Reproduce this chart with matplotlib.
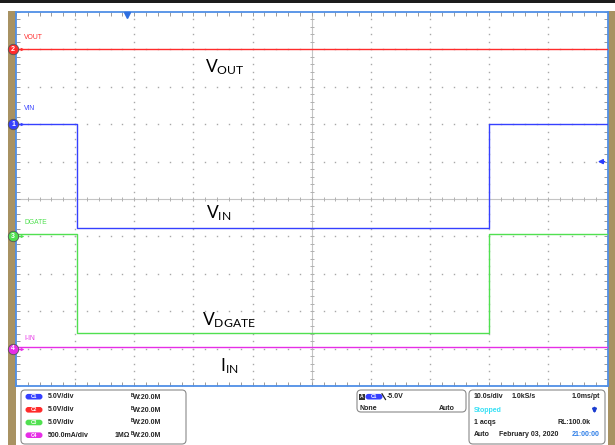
import numpy as np
import matplotlib
matplotlib.use("Agg")
import matplotlib.pyplot as plt
from matplotlib.patches import FancyBboxPatch, Rectangle

# ---------------- data ----------------
t_steps = [0, 10.3, 80.0, 100]          # seconds (10 s/div, 10 div)
vin_v = [0.0, -13.9, 0.0, 0.0]          # V, channel 1
dgate_v = [0.3, -12.9, 0.3, 0.3]        # V, channel 3
t_flat = [0, 100]
vout_v = [0.0, 0.0]                     # V, channel 2
iin_a = [0.02, 0.02]                    # A, channel 4

ch_scale = {"C1": 5.0, "C2": 5.0, "C3": 5.0, "C4": 0.5}     # per div
ch_offset = {"C1": 7.0, "C2": 9.0, "C3": 4.0, "C4": 1.0}    # divisions from bottom
ch_color = {"C1": "#3540ff", "C2": "#ff2b2b", "C3": "#50e050", "C4": "#e62ee6"}
ch_num = {"C1": "1", "C2": "2", "C3": "3", "C4": "4"}
ch_small = {"C1": "VIN", "C2": "VOUT", "C3": "DGATE", "C4": "I-IN"}
ch_rows = ["C1", "C2", "C3", "C4"]
ch_div_txt = ["5.0V/div", "5.0V/div", "5.0V/div", "500.0mA/div"]
trig_level = -5.0
trig_time = 18.8

plt.rcParams["font.family"] = ["Liberation Sans", "DejaVu Sans"]
plt.rcParams["mathtext.fontset"] = "custom"
plt.rcParams["mathtext.rm"] = "Lato"
plt.rcParams["mathtext.default"] = "rm"

W, H = 615, 445
fig = plt.figure(figsize=(W / 100, H / 100), dpi=100)
fig.patch.set_facecolor("white")

# background overlay in pixel coords
bg = fig.add_axes([0, 0, 1, 1], zorder=0)
bg.set_xlim(0, W)
bg.set_ylim(H, 0)
bg.axis("off")
tan = "#a89262"
bg.add_patch(Rectangle((0, 0), W, 2.5, color="#1c1c1c", lw=0))
bg.add_patch(Rectangle((8, 11), 8, H - 11, color=tan, lw=0))
bg.add_patch(Rectangle((607.5, 11), 8, H - 11, color=tan, lw=0))

# main graticule axes
L, T, R, B = 16, 12, 607.5, 386
ax = fig.add_axes([L / W, (H - B) / H, (R - L) / W, (B - T) / H], zorder=1)
ax.set_xlim(0, 100)
ax.set_ylim(0, 10)
ax.set_facecolor("white")
for s in ax.spines.values():
    s.set_color("#4f8fe6")
    s.set_linewidth(1.3)
ax.set_xticks(np.arange(0, 101, 10))
ax.set_xticks(np.arange(0, 101, 2), minor=True)
ax.set_yticks(np.arange(0, 11, 1))
ax.set_yticks(np.arange(0, 10.01, 0.2), minor=True)
ax.tick_params(which="both", direction="in", length=2.6, width=0.7, color="#9a9a9a",
               top=True, right=True, labelbottom=False, labelleft=False)

# grid dots
gx, gy = [], []
for k in range(1, 10):
    if k == 5:
        continue
    for j in np.arange(0.2, 10, 0.2):
        gx.append(k * 10); gy.append(j)
    for j in np.arange(2, 100, 2):
        gx.append(j); gy.append(k)
ax.plot(gx, gy, ls="none", marker="s", ms=1.0, mew=0, color="#a8a8a8", zorder=1)
ax.axvline(50, color="#c4c4c4", lw=0.8, zorder=1)
ax.axhline(5, color="#c4c4c4", lw=0.8, zorder=1)
mx = np.arange(2, 100, 2)
ax.plot(mx, np.full_like(mx, 5.0, dtype=float), ls="none", marker="|", ms=3.5, mew=0.7,
        color="#b0b0b0", zorder=1)
my = np.arange(0.2, 10, 0.2)
ax.plot(np.full_like(my, 50.0), my, ls="none", marker="_", ms=3.5, mew=0.7,
        color="#b0b0b0", zorder=1)

# traces
def scr(ch, v):
    return ch_offset[ch] + np.asarray(v) / ch_scale[ch]

ax.plot(t_flat, scr("C2", vout_v), color=ch_color["C2"], lw=1.0, zorder=3)
ax.plot(t_steps, scr("C1", vin_v), color=ch_color["C1"], lw=1.0, drawstyle="steps-post", zorder=3)
ax.plot(t_steps, scr("C3", dgate_v), color=ch_color["C3"], lw=1.0, drawstyle="steps-post", zorder=3)
ax.plot(t_flat, scr("C4", iin_a), color=ch_color["C4"], lw=1.0, zorder=3)

# channel markers
lab_dy = {"C1": 0.43, "C2": 0.33, "C3": 0.37, "C4": 0.28}
for ch in ch_rows:
    y = ch_offset[ch]
    ax.plot([-0.5], [y], marker="o", ms=7.5, mfc=ch_color[ch], mec="#555555", mew=0.6,
            clip_on=False, zorder=5)
    ax.text(-0.5, y, ch_num[ch], color="white", fontsize=5, ha="center", va="center",
            fontweight="bold", clip_on=False, zorder=6)
    ax.plot([0.2, 1.0], [y, y], color=ch_color[ch], lw=1.0, zorder=4)
    ax.plot([1.0], [y], marker=">", ms=2.5, color=ch_color[ch], mew=0, zorder=4)
    ax.text(1.4, y + lab_dy[ch], ch_small[ch], color=ch_color[ch], fontsize=4.9,
            ha="left", va="center", zorder=4)

# trigger markers
ax.plot([trig_time], [9.93], marker="v", ms=5, color="#2f6fe0", clip_on=False, zorder=6)
ty = scr("C1", trig_level)
ax.annotate("", xy=(97.9, ty), xytext=(100, ty),
            arrowprops=dict(arrowstyle="-|>", color="#2a3cff", lw=1.0, mutation_scale=7),
            zorder=6)

# big labels (foreground overlay)
fg = fig.add_axes([0, 0, 1, 1], zorder=2)
fg.set_xlim(0, W)
fg.set_ylim(H, 0)
fg.axis("off")
fg.patch.set_alpha(0)
big = 12.5
fg.text(205, 67, r"V$_{\mathrm{OUT}}$", fontsize=big, family="Lato", ha="left", va="center")
fg.text(206, 213, r"V$_{\mathrm{IN}}$", fontsize=big, family="Lato", ha="left", va="center")
fg.text(202, 320, r"V$_{\mathrm{DGATE}}$", fontsize=big, family="Lato", ha="left", va="center")
fg.text(220, 366, r"I$_{\mathrm{IN}}$", fontsize=big, family="Lato", ha="left", va="center")

# ---------------- bottom panel ----------------
fs = 5.0
def rbox(x0, y0, x1, y1):
    bg.add_patch(FancyBboxPatch((x0, y0), x1 - x0, y1 - y0,
                                boxstyle="round,pad=0,rounding_size=4",
                                fc="white", ec="#8a8a8a", lw=0.8))

def pill(x, y, color, label):
    bg.add_patch(FancyBboxPatch((x, y - 2.8), 17, 5.6,
                                boxstyle="round,pad=0,rounding_size=2.8",
                                fc=color, ec="none"))
    bg.text(x + 8.5, y, label, color="white", fontsize=3.6, ha="center", va="center",
            fontweight="bold")

rbox(21, 390, 186, 444)
row_y = [396.7, 409.8, 422.5, 435.2]
for ch, y, txt in zip(ch_rows, row_y, ch_div_txt):
    pill(25.5, y, ch_color[ch], ch)
    bg.text(48, y, txt, fontsize=fs, fontweight="bold", ha="left", va="center", color="#222222")
    bg.text(130.5, y - 1.6, "B", fontsize=3.3, fontweight="bold", ha="left", va="center", color="#222222")
    bg.text(133, y + 0.4, "W:20.0M", fontsize=fs, fontweight="bold", ha="left", va="center", color="#222222")
bg.text(115, row_y[3], "1MΩ", fontsize=fs, fontweight="bold", ha="left", va="center", color="#222222")

rbox(357, 390, 466, 412)
bg.add_patch(Rectangle((359, 393.5), 5.5, 6, fc="#333333", ec="none"))
bg.text(361.7, 396.7, "A", color="white", fontsize=3.6, fontweight="bold", ha="center", va="center")
pill(365.5, 396.7, ch_color["C1"], "C1")
bg.plot([382, 385.5], [393.8, 399.5], color="#222222", lw=0.9)
bg.text(387, 396.7, "-5.0V", fontsize=fs, fontweight="bold", ha="left", va="center", color="#222222")
bg.text(359, 408, "None", fontsize=fs, fontweight="bold", ha="left", va="center", color="#222222")
bg.text(455, 408, "Auto", fontsize=fs, fontweight="bold", ha="right", va="center", color="#222222")

rbox(469, 390, 605, 444)
bg.text(474, 396.7, "10.0s/div", fontsize=fs, fontweight="bold", ha="left", va="center", color="#222222")
bg.text(512, 396.7, "1.0kS/s", fontsize=fs, fontweight="bold", ha="left", va="center", color="#222222")
bg.text(600, 396.7, "1.0ms/pt", fontsize=fs, fontweight="bold", ha="right", va="center", color="#222222")
bg.text(474, 410, "Stopped", fontsize=fs, fontweight="bold", ha="left", va="center", color="#35e0f5")
bg.annotate("", xy=(594.5, 416.5), xytext=(594.5, 405),
            arrowprops=dict(arrowstyle="-|>", color="#1a3cd0", lw=1.6, mutation_scale=5))
bg.text(474, 422.7, "1 acqs", fontsize=fs, fontweight="bold", ha="left", va="center", color="#222222")
bg.text(591, 422.7, "RL:100.0k", fontsize=fs, fontweight="bold", ha="right", va="center", color="#222222")
bg.text(474, 434.5, "Auto", fontsize=fs, fontweight="bold", ha="left", va="center", color="#222222")
bg.text(499, 434.5, "February 03, 2020", fontsize=fs, fontweight="bold", ha="left", va="center", color="#222222")
bg.text(600, 434.5, "21:00:00", fontsize=fs, fontweight="bold", ha="right", va="center", color="#2f7fe8")

fig.savefig("out.png", dpi=100)
